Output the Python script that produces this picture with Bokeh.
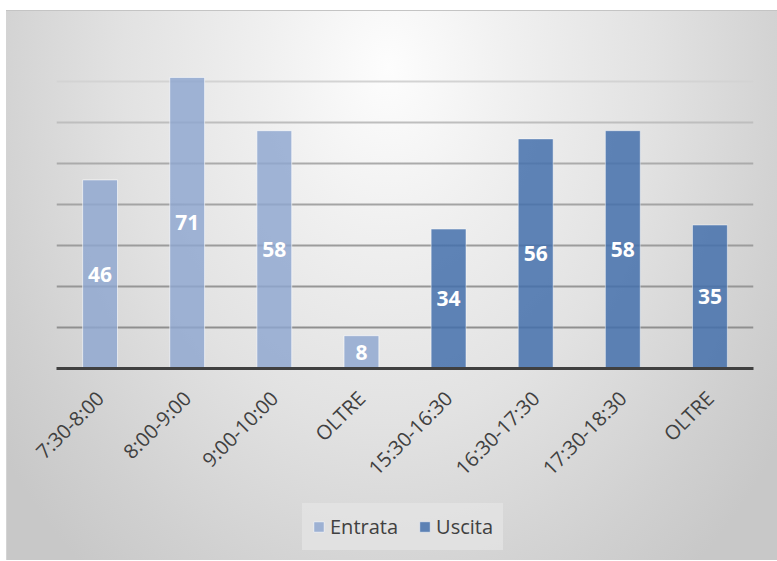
import numpy as np
from bokeh.plotting import figure
from bokeh.layouts import column
from bokeh.models import (ColumnDataSource, FixedTicker, Grid, LabelSet, Legend,
                          LegendItem, Range1d)
from bokeh.core.properties import value
from bokeh.embed import file_html
from bokeh.resources import INLINE
from math import pi

# ---- data ----
categories = ["7:30-8:00", "8:00-9:00", "9:00-10:00", "OLTRE",
              "15:30-16:30", "16:30-17:30", "17:30-18:30", "OLTRE"]
entrata = [46, 71, 58, 8]
uscita = [34, 56, 58, 35]
series_names = ["Entrata", "Uscita"]
grid_values = [10, 20, 30, 40, 50, 60, 70, 80]

FONT = "Open Sans"
COL_E = "#8EA6D0"
COL_U = "#4470AB"
x_ent = list(range(len(entrata)))
x_usc = list(range(len(entrata), len(entrata) + len(uscita)))

src_e = ColumnDataSource(dict(x=x_ent, v=entrata,
                              mid=[v / 2 for v in entrata],
                              t=[str(v) for v in entrata]))
src_u = ColumnDataSource(dict(x=x_usc, v=uscita,
                              mid=[v / 2 for v in uscita],
                              t=[str(v) for v in uscita]))

# ---- main chart ----
p = figure(width=777, height=500, output_backend="svg", toolbar_location=None,
           x_range=Range1d(-0.5, len(categories) - 0.5), y_range=Range1d(0, 80),
           min_border_left=56, min_border_right=24, min_border_top=40,
           min_border_bottom=132)
p.background_fill_alpha = 0
p.border_fill_alpha = 0
p.outline_line_color = None

p.xgrid.visible = False
p.ygrid.visible = False
grid_colors = {10: "#8f8f8f", 20: "#969696", 30: "#9c9c9c", 40: "#a4a4a4",
               50: "#ababab", 60: "#bebebe", 70: "#d3d3d3", 80: "#dadada"}
for gv in grid_values:
    g = Grid(dimension=1, ticker=FixedTicker(ticks=[gv]),
             grid_line_color=grid_colors[gv], grid_line_width=2)
    p.add_layout(g)

r_e = p.vbar(x="x", top="v", width=0.4, source=src_e,
             fill_color=COL_E, fill_alpha=0.82,
             line_color="white", line_alpha=0.6, line_width=1)
r_u = p.vbar(x="x", top="v", width=0.4, source=src_u,
             fill_color=COL_U, fill_alpha=0.85,
             line_color="white", line_alpha=0.45, line_width=1)

for src in (src_e, src_u):
    p.add_layout(LabelSet(x="x", y="mid", text="t", source=src,
                          text_align="center", text_baseline="middle",
                          text_color="white", text_font_style="bold",
                          text_font_size="21px", text_font=value(FONT)))

p.yaxis.visible = False
ax = p.xaxis[0]
ax.ticker = FixedTicker(ticks=list(range(len(categories))))
ax.major_label_overrides = {i: c for i, c in enumerate(categories)}
ax.major_label_orientation = pi / 4
ax.major_label_text_font = FONT
ax.major_label_text_font_size = "20px"
ax.major_label_text_color = "#404040"
ax.major_label_standoff = 20
ax.major_tick_line_color = None
ax.minor_tick_line_color = None
ax.axis_line_color = "#404040"
ax.axis_line_width = 3

# ---- legend strip (legend keys use the same series; the bars lie outside this strip's view) ----
lg = figure(width=777, height=61, output_backend="svg", toolbar_location=None,
            x_range=Range1d(-0.5, len(categories) - 0.5), y_range=Range1d(200, 201),
            min_border_left=0, min_border_right=0, min_border_top=0,
            min_border_bottom=0)
lg.background_fill_alpha = 0
lg.border_fill_alpha = 0
lg.outline_line_color = None
lg.axis.visible = False
lg.grid.visible = False
k_e = lg.vbar(x="x", top="v", width=0.4, source=src_e, fill_color=COL_E,
              fill_alpha=0.82, line_color="white", line_alpha=0.6)
k_u = lg.vbar(x="x", top="v", width=0.4, source=src_u, fill_color=COL_U,
              fill_alpha=0.85, line_color="white", line_alpha=0.45)

legend = Legend(items=[LegendItem(label=series_names[0], renderers=[k_e]),
                       LegendItem(label=series_names[1], renderers=[k_u])],
                orientation="horizontal", location=(246, 11))
legend.label_text_font = FONT
legend.label_text_font_size = "20px"
legend.label_text_color = "#404040"
legend.glyph_width = 13
legend.glyph_height = 13
legend.label_standoff = 5
legend.spacing = 20
legend.padding = 10
legend.margin = 0
legend.background_fill_color = "#e6e6e6"
legend.background_fill_alpha = 0.7
legend.border_line_alpha = 0
lg.add_layout(legend)

layout = column(p, lg, spacing=0)
layout.styles = {
    "background":
        "linear-gradient(#ffffff, #ffffff) left top / 6px 100% no-repeat, "
        "linear-gradient(#ffffff, #ffffff) left top / 100% 10px no-repeat, "
        "linear-gradient(#ffffff, #ffffff) left bottom / 100% 1px no-repeat, "
        "linear-gradient(#c4c4c4, #c4c4c4) 0px 10px / 100% 1px no-repeat, "
        "linear-gradient(#d4d4d4, #d4d4d4) 6px 0px / 1px 100% no-repeat, "
        "radial-gradient(ellipse 62% 115% at 50% 12%, #fdfdfd 0%, #f0f0f0 25%, #e2e2e2 55%, #d0d0d0 85%, #c8c8c8 100%)"
}

open("out.html", "w").write(file_html(layout, INLINE))
